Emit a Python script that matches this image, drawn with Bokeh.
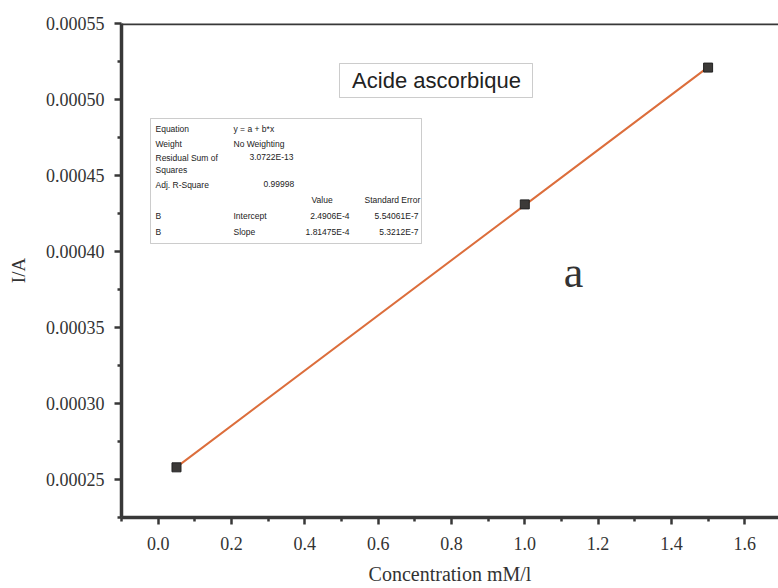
from bokeh.plotting import figure
from bokeh.models import (Range1d, FixedTicker, PrintfTickFormatter, Label,
                          BoxAnnotation, Span)
from bokeh.embed import file_html
from bokeh.resources import INLINE

# ---- data ----
conc = [0.05, 1.0, 1.5]                  # mM/l
current = [0.000258, 0.000431, 0.000521]  # A
fit_intercept = 2.4906e-4
fit_slope = 1.81475e-4
x_ticks = [0.0, 0.2, 0.4, 0.6, 0.8, 1.0, 1.2, 1.4, 1.6]
x_minor = [-0.1, 0.1, 0.3, 0.5, 0.7, 0.9, 1.1, 1.3, 1.5, 1.7]
y_ticks = [0.00025, 0.00030, 0.00035, 0.00040, 0.00045, 0.00050, 0.00055]
y_minor = [0.000225, 0.000275, 0.000325, 0.000375, 0.000425, 0.000475, 0.000525]
fit_line_y = [fit_intercept + fit_slope * c for c in conc]

# ---- geometry ----
W, H = 778, 588
FL, FT, FB = 121, 23, 517          # frame left / top / bottom (px)
FR = W
X0, X1 = -0.1, 1.692
Y0, Y1 = 0.000225, 0.00055


def px(xp):
    return X0 + (xp - FL) / (FR - FL) * (X1 - X0)


def py(yp):
    return Y0 + (FB - yp) / (FB - FT) * (Y1 - Y0)


p = figure(width=W, height=H, output_backend="svg", toolbar_location=None,
           x_range=Range1d(X0, X1), y_range=Range1d(Y0, Y1),
           min_border_left=FL, min_border_top=FT, min_border_bottom=H - FB,
           min_border_right=0)
p.outline_line_color = None
p.grid.visible = False
p.background_fill_color = "white"
p.border_fill_color = "white"

AX = "#383838"
for ax in (p.xaxis[0], p.yaxis[0]):
    ax.axis_line_color = AX
    ax.axis_line_width = 3.5
    ax.major_tick_line_color = AX
    ax.major_tick_line_width = 2.5
    ax.minor_tick_line_color = AX
    ax.minor_tick_line_width = 2.5
    ax.major_tick_out = 7
    ax.major_tick_in = 0
    ax.minor_tick_out = 4
    ax.minor_tick_in = 0
    ax.major_label_text_font = "Liberation Serif"
    ax.major_label_text_font_size = "18px"
    ax.major_label_text_color = "#333333"
    ax.axis_label_text_font = "Liberation Serif"
    ax.axis_label_text_font_style = "normal"
    ax.axis_label_text_color = "#333333"

p.xaxis.ticker = FixedTicker(ticks=x_ticks, minor_ticks=x_minor)
p.yaxis.ticker = FixedTicker(ticks=y_ticks, minor_ticks=y_minor)
p.yaxis.formatter = PrintfTickFormatter(format="%.5f")
p.xaxis.formatter = PrintfTickFormatter(format="%.1f")
p.xaxis.axis_label = "Concentration mM/l"
p.xaxis.axis_label_text_font_size = "20px"
p.xaxis.axis_label_standoff = 10
p.xaxis.major_label_standoff = 12
p.yaxis.axis_label = "I/A"
p.yaxis.axis_label_text_font_size = "19px"
p.yaxis.major_label_standoff = 10
p.yaxis.axis_label_standoff = 14

# top border
p.add_layout(Span(location=Y1, dimension="width", line_color=AX, line_width=3.5))

# fit line and points
p.line(conc, fit_line_y, line_color="#dc6e3c", line_width=2)
p.scatter(conc, current, marker="square", size=9, fill_color="#3c3a38",
          line_color="#222222")

# title box
p.add_layout(BoxAnnotation(left=px(339), right=px(532), top=py(63), bottom=py(97),
                           fill_color=None, line_color="#555555", line_width=1))
p.add_layout(Label(x=px(436), y=py(80), text="Acide ascorbique",
                   text_font="Liberation Sans", text_font_size="22px",
                   text_color="#222222", text_align="center",
                   text_baseline="middle"))

# "a"
p.add_layout(Label(x=px(573), y=py(272), text="a", text_font="Liberation Serif",
                   text_font_size="44px", text_color="#333333",
                   text_align="center", text_baseline="middle"))

# stats table
p.add_layout(BoxAnnotation(left=px(150), right=px(421), top=py(118), bottom=py(243),
                           fill_color=None, line_color="#555555", line_width=1))
TF = "Liberation Sans"
TS = "8.5px"


def t(xp, yp, s, align="left"):
    p.add_layout(Label(x=px(xp), y=py(yp), text=s, text_font=TF, text_font_size=TS,
                       text_color="#222222", text_align=align,
                       text_baseline="middle"))


t(155, 128, "Equation")
t(233, 128, "y = a + b*x")
t(155, 143, "Weight")
t(233, 143, "No Weighting")
t(155, 157, "Residual Sum of")
t(155, 169, "Squares")
t(249, 156, "3.0722E-13")
t(155, 184, "Adj. R-Square")
t(263, 183, "0.99998")
t(311, 199, "Value")
t(364, 199, "Standard Error")
t(155, 215, "B")
t(233, 215, "Intercept")
t(349, 215, "2.4906E-4", "right")
t(418, 215, "5.54061E-7", "right")
t(155, 231, "B")
t(233, 231, "Slope")
t(349, 231, "1.81475E-4", "right")
t(418, 231, "5.3212E-7", "right")

open("out.html", "w").write(file_html(p, INLINE))
